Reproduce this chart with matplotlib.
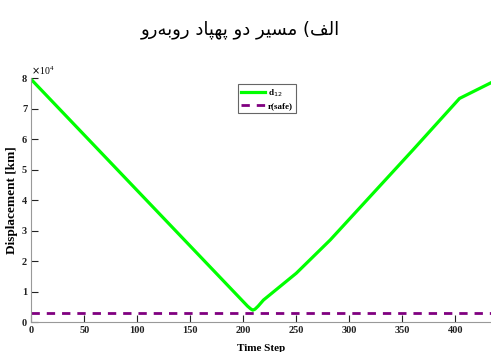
"""
displacement between two facing drones, with safety bound
"""
import matplotlib
matplotlib.use('Agg')
import matplotlib.pyplot as plt
import numpy as np

# data
steps = [0, 204, 207, 209, 211, 214, 219, 250, 282, 360, 404, 434]
d12 = [79500, 5200, 4300, 3900, 4200, 5200, 7200, 16000, 26900, 56400, 73300, 78500]
r_safe = 3000

xticks = [0, 50, 100, 150, 200, 250, 300, 350, 400]
yticks = [0, 10000, 20000, 30000, 40000, 50000, 60000, 70000, 80000]
ytick_labels = ['0', '1', '2', '3', '4', '5', '6', '7', '8']

# persian title, pre-shaped (presentation forms, visual order) since matplotlib has no bidi
title = ('\uFEED\uFEAD\uFEEA\uFE91\uFEED\uFEAD' + ' ' +
         '\uFEA9\uFE8E\uFB59\uFEEC\uFB58' + ' ' +
         '\uFEED\uFEA9' + ' ' +
         '\uFEAE\uFEF4\uFEB4\uFEE3' + ' (' +
         '\uFED2\uFEDF\uFE8D')

serif = {'family': 'Liberation Serif', 'weight': 'bold'}

fig = plt.figure(figsize=(4.91, 3.52), dpi=100)
ax = fig.add_axes([0.0638, 0.0852, 0.9362, 0.6932])

ax.plot(steps, d12, color='#00ff00', lw=2.3, label='d$_{12}$')
ax.plot([0, 434], [r_safe, r_safe], color='#800080', lw=2, ls=(0, (3, 2.5)),
        label='r(safe)')

ax.set_xlim(0, 433.7)
ax.set_ylim(0, 80000)
ax.set_xticks(xticks)
ax.set_xticklabels([str(t) for t in xticks], fontdict=serif, fontsize=7.5)
ax.set_yticks(yticks)
ax.set_yticklabels(ytick_labels, fontdict=serif, fontsize=7.5)
ax.tick_params(direction='in', length=5, width=0.8, colors='#222222', pad=3)

for s in ['top', 'right']:
    ax.spines[s].set_visible(False)
for s in ['left', 'bottom']:
    ax.spines[s].set_color('#999999')
    ax.spines[s].set_linewidth(0.8)

ax.set_xlabel('Time Step', fontdict=serif, fontsize=8, labelpad=6)
ax.set_ylabel('Displacement [km]', fontdict=serif, fontsize=9.5, labelpad=3)
ax.text(0.0, 1.005, r'$\times\mathregular{10^4}$', transform=ax.transAxes,
        fontsize=7, family='Liberation Serif', va='bottom', ha='left')

leg = ax.legend(loc='upper left', bbox_to_anchor=(0.45, 0.975), borderaxespad=0,
                handlelength=2.6, fancybox=False, framealpha=1,
                edgecolor='#666666', borderpad=0.35, labelspacing=0.35,
                handletextpad=0.3, prop={'family': 'Liberation Serif',
                                         'weight': 'bold', 'size': 6.5})
leg.get_frame().set_linewidth(0.8)

fig.text(0.49, 0.915, title, ha='center', va='center', fontsize=13,
         family='DejaVu Sans')

fig.savefig('out.png', dpi=100)
